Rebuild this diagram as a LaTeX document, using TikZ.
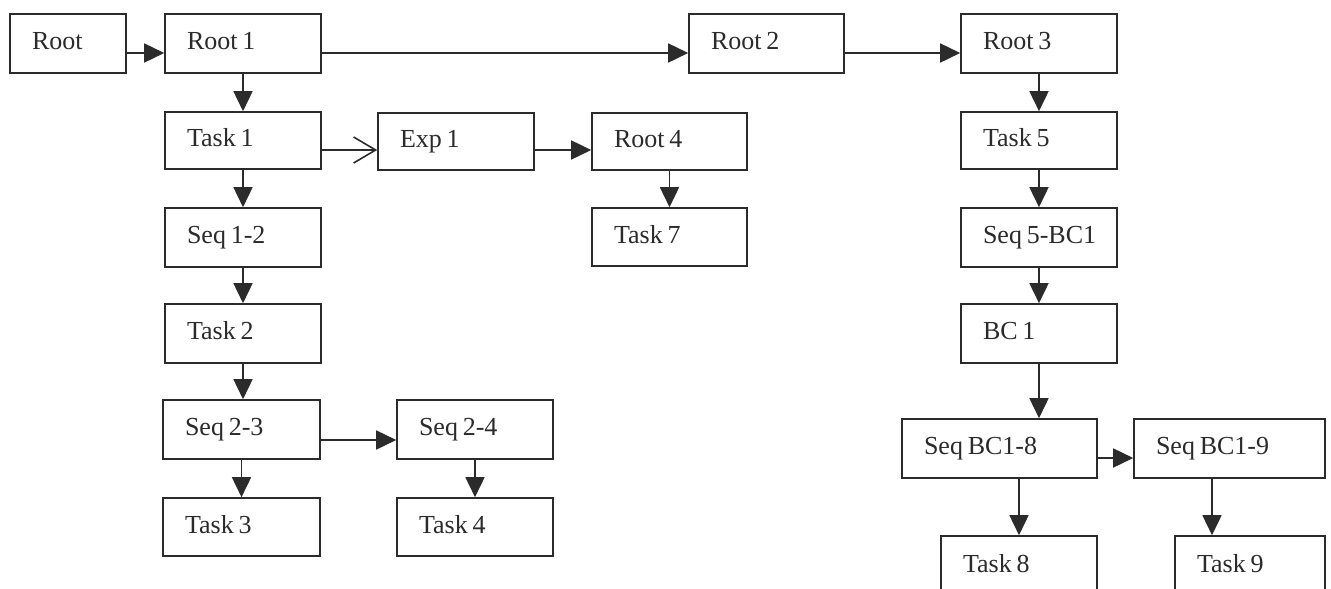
\documentclass[tikz,border=0pt]{standalone}
\usepackage{fontspec}
\setmainfont{Liberation Serif}
\usetikzlibrary{arrows.meta}
\definecolor{linec}{HTML}{2B2B2B}
\newcommand{\boxtext}[1]{\hbox{\spaceskip=4.8pt\relax #1}}
\tikzset{
  box/.style={draw=linec, line width=1.6pt, text=linec, inner xsep=22pt, inner ysep=0pt,
    text width=#1-44pt, align=left, minimum height=59pt, text height=19pt, text depth=7pt,
    font=\fontsize{26}{31}\selectfont},
  arr/.style={draw=linec, line width=1.6pt, -{Triangle[length=20pt,width=19pt]}},
  openarr/.style={draw=linec, line width=1.6pt, -{Straight Barb[length=22pt,width=26pt,line width=1.6pt]}}
}
\begin{document}
\begin{tikzpicture}[x=1pt,y=-1pt]
\useasboundingbox (0,0) rectangle (1331,589);
\fill[white] (0,0) rectangle (1331,589);
\clip (0,0) rectangle (1331,589);
% top row
\node[box=116] (root) at (68,43.5) {\boxtext{Root}};
\node[box=156] (r1) at (243,43.5) {\boxtext{Root 1}};
\node[box=155] (r2) at (766.5,43.5) {\boxtext{Root 2}};
\node[box=156] (r3) at (1039,43.5) {\boxtext{Root 3}};
% left column
\node[box=156, minimum height=57pt] (t1) at (243,140.5) {\boxtext{Task 1}};
\node[box=156] (s12) at (243,237.5) {\boxtext{Seq 1-2}};
\node[box=156] (t2) at (243,333.5) {\boxtext{Task 2}};
\node[box=157] (s23) at (241.5,429.5) {\boxtext{Seq 2-3}};
\node[box=157, minimum height=58pt] (t3) at (241.5,527) {\boxtext{Task 3}};
\node[box=156] (s24) at (475,429.5) {\boxtext{Seq 2-4}};
\node[box=156, minimum height=58pt] (t4) at (475,527) {\boxtext{Task 4}};
% middle
\node[box=156, minimum height=57pt] (e1) at (456,141.5) {\boxtext{Exp 1}};
\node[box=155, minimum height=57pt] (r4) at (669.5,141.5) {\boxtext{Root 4}};
\node[box=155, minimum height=58pt] (t7) at (669.5,237) {\boxtext{Task 7}};
% right column
\node[box=156, minimum height=57pt] (t5) at (1039,140.5) {\boxtext{Task 5}};
\node[box=156] (s5) at (1039,237.5) {\boxtext{Seq 5-BC1}};
\node[box=156] (bc1) at (1039,333.5) {\boxtext{BC 1}};
\node[box=195] (sb8) at (999.5,448.5) {\boxtext{Seq BC1-8}};
\node[box=191] (sb9) at (1229.5,448.5) {\boxtext{Seq BC1-9}};
\node[box=156, minimum height=60pt] (t8) at (1019,566) {\boxtext{Task 8}};
\node[box=150, minimum height=60pt] (t9) at (1250,566) {\boxtext{Task 9}};
% connectors
\draw[arr] ([yshift=-9.5pt]root.east) -- ([yshift=-9.5pt]r1.west);
\draw[arr] ([yshift=-9.5pt]r1.east) -- ([yshift=-9.5pt]r2.west);
\draw[arr] ([yshift=-9.5pt]r2.east) -- ([yshift=-9.5pt]r3.west);
\draw[arr] (r1.south) -- (t1.north);
\draw[openarr] ([yshift=-9.5pt]t1.east) -- ([yshift=-9.5pt]t1.east -| e1.west);
\draw[arr] ([yshift=-8.5pt]e1.east) -- ([yshift=-8.5pt]r4.west);
\draw[arr] (r4.south) -- (t7.north);
\draw[arr] (t1.south) -- (s12.north);
\draw[arr] (s12.south) -- (t2.north);
\draw[arr] (t2.south) -- (t2.south |- s23.north);
\draw[arr] (s23.south) -- (t3.north);
\draw[arr] ([yshift=-10.5pt]s23.east) -- ([yshift=-10.5pt]s24.west);
\draw[arr] (s24.south) -- (t4.north);
\draw[arr] (r3.south) -- (t5.north);
\draw[arr] (t5.south) -- (s5.north);
\draw[arr] (s5.south) -- (bc1.north);
\draw[arr] (bc1.south) -- (bc1.south |- sb8.north);
\draw[arr] ([yshift=-9.5pt]sb8.east) -- ([yshift=-9.5pt]sb8.east -| sb9.west);
\draw[arr] (sb8.south -| t8.north) -- (t8.north);
\draw[arr] ([xshift=-38pt]t9.north |- sb9.south) -- ([xshift=-38pt]t9.north);
\end{tikzpicture}
\end{document}
